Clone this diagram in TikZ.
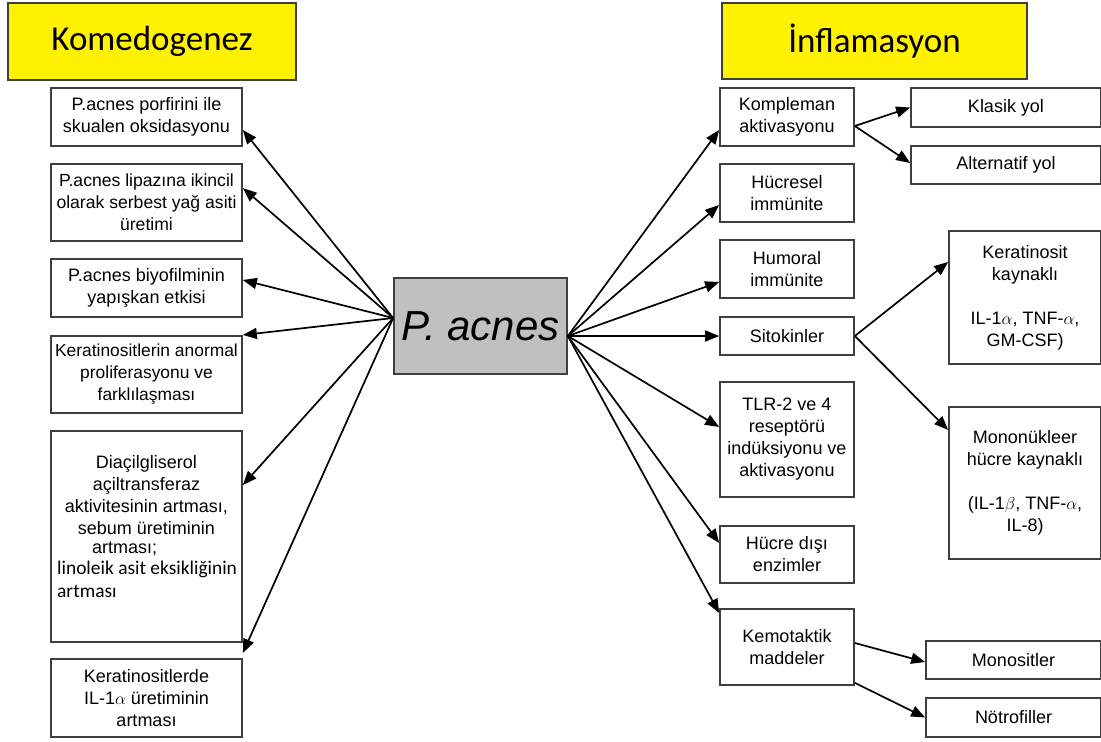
\documentclass[tikz,border=0pt]{standalone}
\usepackage{fontspec}
\setmainfont{Liberation Sans}
\newfontfamily\calfont{Carlito}
\usetikzlibrary{arrows.meta,calc}

\definecolor{sarirenk}{HTML}{FFF200}
\definecolor{cizgigri}{HTML}{3F3F3F}
\definecolor{merkezgri}{HTML}{C0C0C0}

\tikzset{
  kutu/.style={draw=cizgigri, line width=1.7pt, fill=white, inner sep=0pt,
    align=center, font=\fontsize{18}{22}\selectfont},
  boyut/.style 2 args={minimum width=#1pt, minimum height=#2pt},
  baslik/.style={kutu, fill=sarirenk, font=\calfont\fontsize{35}{40}\selectfont},
  yazi/.style={inner sep=0pt, align=center, font=\fontsize{18}{22}\selectfont},
  ok/.style={-{Triangle[length=14pt,width=11pt]}, line width=1.7pt},
}

\begin{document}
\begin{tikzpicture}[x=1pt,y=-1pt]
\useasboundingbox (0,0) rectangle (1101,742);

% ===== Basliklar =====
\node[baslik, boyut={288}{77}] (kom) at (152,41.5) {Komedogenez};
\node[baslik, boyut={305}{76}] (inf) at (874.5,41) {İnflamasyon};

% ===== Merkez =====
\node[kutu, boyut={173}{96}, fill=merkezgri,
  font=\itshape\fontsize{42}{46}\selectfont] (pa) at (480.5,326) {P. acnes};
\coordinate (pl) at ($(pa.west)+(0,-8)$);
\coordinate (pr) at ($(pa.east)+(0,10)$);

% ===== Sol sutun =====
\node[kutu, boyut={191}{58}] (l1) at (146.5,117) {P.acnes porfirini ile\\skualen oksidasyonu};
\node[kutu, boyut={191}{77}, font=\fontsize{17.6}{22}\selectfont] (l2) at (146.5,202.5) {P.acnes lipazına ikincil\\olarak serbest yağ asiti\\üretimi};
\node[kutu, boyut={191}{58}] (l3) at (146.5,288) {P.acnes biyofilminin\\yapışkan etkisi};
\node[kutu, boyut={191}{77}, font=\fontsize{17.4}{22}\selectfont] (l4) at (146.5,374.5) {Keratinositlerin anormal\\proliferasyonu ve\\farklılaşması};
\node[kutu, boyut={191}{211}] (l5) at (146.5,536.5) {};
\node[yazi] (l5a) at (146.5,495.5) {Diaçilgliserol\\açiltransferaz\\aktivitesinin artması,\\sebum üretiminin};
\node[yazi, anchor=west] (l5b) at (92,549) {artması;};
\node[inner sep=0pt, align=left, anchor=west,
  font=\calfont\fontsize{19.4}{23}\selectfont] (l5c) at (57,579) {linoleik asit eksikliğinin\\artması};
\node[kutu, boyut={191}{78}] (l6) at (146.5,698) {Keratinositlerde\\IL-1$\alpha$ üretiminin\\artması};

% ===== Sag sutun =====
\node[kutu, boyut={134}{58}] (r1) at (787,117) {Kompleman\\aktivasyonu};
\node[kutu, boyut={134}{58}] (r2) at (787,193) {Hücresel\\immünite};
\node[kutu, boyut={134}{58}] (r3) at (787,269) {Humoral\\immünite};
\node[kutu, boyut={134}{38}] (r4) at (787,336) {Sitokinler};
\node[kutu, boyut={134}{115}] (r5) at (787,439.5) {TLR-2 ve 4\\reseptörü\\indüksiyonu ve\\aktivasyonu};
\node[kutu, boyut={134}{57}] (r6) at (787,554.5) {Hücre dışı\\enzimler};
\node[kutu, boyut={134}{76}] (r7) at (787,647) {Kemotaktik\\maddeler};

% ===== En sag =====
\node[kutu, boyut={190}{39}] (klasik) at (1006,107.5) {Klasik yol};
\node[kutu, boyut={190}{38}] (altern) at (1006,165) {Alternatif yol};
\node[kutu, boyut={152}{133}] (kerat) at (1025,297.5) {Keratinosit\\kaynaklı\\[22pt]IL-1$\alpha$, TNF-$\alpha$,\\GM-CSF)};
\node[kutu, boyut={152}{152}] (monon) at (1025,483) {Mononükleer\\hücre kaynaklı\\[22pt](IL-1$\beta$, TNF-$\alpha$,\\IL-8)};
\node[kutu, boyut={175}{38}] (monos) at (1013.5,660) {Monositler};
\node[kutu, boyut={175}{39}] (notro) at (1013.5,717.5) {Nötrofiller};

% ===== Oklar =====
\foreach \n/\dy in {1/13, 2/-14.5, 3/-8, 4/-39.5, 5/-51.5, 6/-45}
  \draw[ok] (pl) -- ($(l\n.east)+(0,\dy)$);

\foreach \n/\dy in {1/13, 2/12, 3/13, 4/0, 5/-12.5, 6/-11.5, 7/-34}
  \draw[ok] (pr) -- ($(r\n.west)+(0,\dy)$);

\draw[ok] ($(r1.east)+(0,9)$) -- (klasik.west);
\draw[ok] ($(r1.east)+(0,9)$) -- ($(altern.west)+(0,-2)$);

\draw[ok] (r4.east) -- ($(kerat.west)+(0,-35.5)$);
\draw[ok] (r4.east) -- ($(monon.west)+(0,-53)$);

\draw[ok] ($(r7.east)+(0,-4)$) -- ($(monos.west)+(0,2)$);
\draw[ok] ($(r7.south east)+(0,-3)$) -- (notro.west);

\end{tikzpicture}
\end{document}
